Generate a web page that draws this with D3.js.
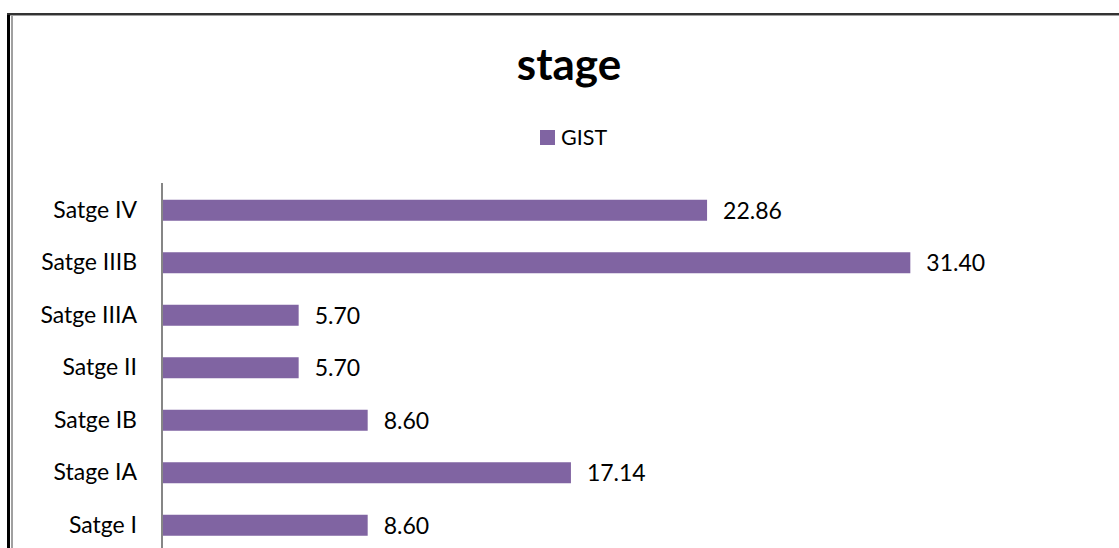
<!DOCTYPE html>
<html>
<head>
<meta charset="utf-8">
<script src="https://cdn.jsdelivr.net/npm/d3@7"></script>
<style>
  body { margin: 0; background: #fff; }
  svg { display: block; font-family: Lato, 'Open Sans', sans-serif; }
</style>
</head>
<body>
<div id="chart"></div>
<script>
// categories top to bottom, as drawn
const categories = ['Satge IV', 'Satge IIIB', 'Satge IIIA', 'Satge II', 'Satge IB', 'Stage IA', 'Satge I'];
const values = [22.86, 31.40, 5.70, 5.70, 8.60, 17.14, 8.60];
const seriesName = 'GIST';
const title = 'stage';

const width = 1119;
const height = 548;
const barColor = '#8064a2';

const svg = d3.select('#chart')
  .append('svg')
  .attr('width', width)
  .attr('height', height);

// frame around the chart area (cut off at right and bottom)
svg.append('rect').attr('x', 7).attr('y', 13).attr('width', 3).attr('height', height - 13).attr('fill', '#000');
svg.append('rect').attr('x', 7).attr('y', 13).attr('width', width - 7).attr('height', 2).attr('fill', '#333');
svg.append('rect').attr('x', 10).attr('y', 15).attr('width', width - 10).attr('height', 1).attr('fill', '#a0a0a0');
svg.append('rect').attr('x', 11).attr('y', 15).attr('width', 2).attr('height', height - 15).attr('fill', '#a0a0a0');

const x = d3.scaleLinear()
  .domain([0, 35])
  .range([163, 163 + 35 * 23.8]);

const y = d3.scaleBand()
  .domain(categories)
  .range([184, 551.5])
  .paddingInner(0.6)
  .paddingOuter(0.3);

// title
svg.append('text')
  .attr('x', 569)
  .attr('y', 80)
  .attr('text-anchor', 'middle')
  .attr('font-size', 44)
  .attr('font-weight', 'bold')
  .text(title);

// legend
svg.append('rect')
  .attr('x', 540).attr('y', 130)
  .attr('width', 15).attr('height', 15)
  .attr('fill', barColor);
svg.append('text')
  .attr('x', 561).attr('y', 145)
  .attr('font-size', 21.5)
  .text(seriesName);

// bars
svg.append('g')
  .selectAll('rect')
  .data(values)
  .join('rect')
  .attr('x', x(0))
  .attr('y', (d, i) => y(categories[i]))
  .attr('width', d => x(d) - x(0))
  .attr('height', y.bandwidth())
  .attr('fill', barColor);

// value labels
svg.append('g')
  .selectAll('text')
  .data(values)
  .join('text')
  .attr('x', d => x(d) + 16)
  .attr('y', (d, i) => y(categories[i]) + y.bandwidth() / 2)
  .attr('dy', '0.36em')
  .attr('font-size', 23)
  .text(d => d.toFixed(2));

// category axis
const yAxis = svg.append('g')
  .attr('transform', 'translate(162,0)')
  .call(d3.axisLeft(y).tickSize(0).tickPadding(25));
yAxis.select('.domain')
  .attr('stroke', '#868686')
  .attr('stroke-width', 2)
  .attr('d', 'M0,' + (y.range()[0] - 1) + 'V' + height);
yAxis.selectAll('text')
  .attr('font-size', 23)
  .attr('font-family', "Lato, 'Open Sans', sans-serif")
  .attr('fill', '#000');
</script>
</body>
</html>
